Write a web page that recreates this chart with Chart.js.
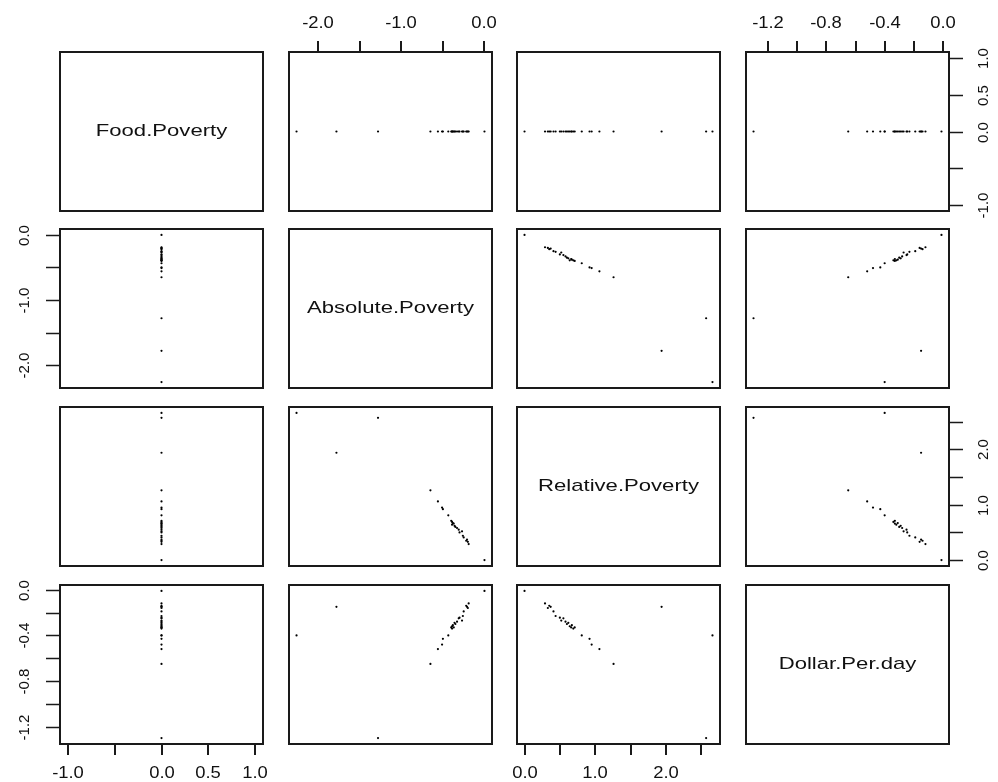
<!DOCTYPE html>
<html>
<head>
<meta charset="utf-8">
<script src="https://cdn.jsdelivr.net/npm/chart.js@4.4.1/dist/chart.umd.min.js"></script>
<style>
  html, body { margin: 0; padding: 0; background: #fff; overflow: hidden; }
  #wrap { position: relative; width: 998px; height: 782px; }
  #wrap canvas { position: absolute; }
</style>
</head>
<body>
<div id="wrap"></div>
<script>
const variables = ['Food.Poverty', 'Absolute.Poverty', 'Relative.Poverty', 'Dollar.Per.day'];

const foodPoverty = [0, 0, 0, 0, 0, 0, 0, 0, 0, 0, 0, 0, 0, 0, 0, 0, 0, 0, 0, 0, 0, 0, 0, 0, 0, 0];
const absolutePoverty = [0.00, -2.26, -1.78, -1.28, -0.19, -0.22, -0.20, -0.25, -0.26, -0.30, -0.31, -0.27, -0.36,
  -0.39, -0.38, -0.40, -0.435, -0.50, -0.51, -0.56, -0.65, -0.35, -0.37, -0.39, -0.33, -0.21];
const relativePoverty = [0.00, 2.66, 1.94, 2.57, 0.29, 0.35, 0.33, 0.41, 0.44, 0.50, 0.55, 0.52, 0.62,
  0.64, 0.67, 0.71, 0.81, 0.92, 0.95, 1.06, 1.26, 0.60, 0.66, 0.69, 0.58, 0.37];
const dollarPerDay = [-0.01, -0.40, -0.15, -1.30, -0.12, -0.14, -0.16, -0.19, -0.23, -0.245, -0.25, -0.27, -0.29,
  -0.32, -0.31, -0.33, -0.40, -0.43, -0.48, -0.52, -0.65, -0.30, -0.33, -0.34, -0.28, -0.15];

const foodTicks = [-1, -0.5, 0, 0.5, 1];
const foodTickLabels = ['-1.0', '', '0.0', '0.5', '1.0'];
const absoluteTicks = [-2, -1.5, -1, -0.5, 0];
const absoluteTickLabels = ['-2.0', '', '-1.0', '', '0.0'];
const relativeTicks = [0, 0.5, 1, 1.5, 2, 2.5];
const relativeTickLabels = ['0.0', '', '1.0', '', '2.0', ''];
const dollarTicks = [-1.2, -1, -0.8, -0.6, -0.4, -0.2, 0];
const dollarTickLabels = ['-1.2', '', '-0.8', '', '-0.4', '', '0.0'];

const series = [foodPoverty, absolutePoverty, relativePoverty, dollarPerDay];
const tickSets = [
  [foodTicks, foodTickLabels],
  [absoluteTicks, absoluteTickLabels],
  [relativeTicks, relativeTickLabels],
  [dollarTicks, dollarTickLabels]
];

// panel geometry (px)
const colLeft = [60, 289, 517, 746];
const rowTop = [52, 229, 407, 585];
const PW = 203, PH = 159, M = 50;
const FONT = '"Liberation Sans", Arial, Helvetica, sans-serif';
const STRETCH = 1.15; // tick labels are a bit wide in the reference

// R-style axis limits: data range plus 4% each side
function limits(v) {
  const lo = Math.min(...v), hi = Math.max(...v);
  if (hi === lo) return [lo - 1.08, hi + 1.08];
  const d = (hi - lo) * 0.04;
  return [lo - d, hi + d];
}

function hText(ctx, txt, x, y, size, sx) {
  ctx.save();
  ctx.translate(x, y);
  ctx.scale(sx, 1);
  ctx.font = size + 'px ' + FONT;
  ctx.textAlign = 'center';
  ctx.textBaseline = 'middle';
  ctx.fillText(txt, 0, 0);
  ctx.restore();
}

function vText(ctx, txt, x, y, size) {
  ctx.save();
  ctx.translate(x, y);
  ctx.rotate(-Math.PI / 2);
  ctx.font = size + 'px ' + FONT;
  ctx.textAlign = 'center';
  ctx.textBaseline = 'middle';
  ctx.fillText(txt, 0, 0);
  ctx.restore();
}

const pairsPlugin = {
  id: 'pairs',
  afterDatasetsDraw(chart, args, opts) {
    const ctx = chart.ctx, a = chart.chartArea;
    ctx.save();
    ctx.strokeStyle = '#1a1a1a';
    ctx.fillStyle = '#111';
    ctx.lineWidth = 2;
    ctx.strokeRect(a.left, a.top, a.right - a.left, a.bottom - a.top);

    if (opts.label) {
      hText(ctx, opts.label, (a.left + a.right) / 2, (a.top + a.bottom) / 2, 17, 1.3);
    }

    (opts.axes || []).forEach(ax => {
      const [vals, labs] = ax.ticks;
      vals.forEach((v, k) => {
        if (ax.side === 'top' || ax.side === 'bottom') {
          const px = Math.round(chart.scales.x.getPixelForValue(v));
          const y0 = ax.side === 'top' ? a.top : a.bottom;
          const dir = ax.side === 'top' ? -1 : 1;
          ctx.lineWidth = 2;
          ctx.beginPath();
          ctx.moveTo(px, y0);
          ctx.lineTo(px, y0 + dir * 11);
          ctx.stroke();
          if (labs[k]) hText(ctx, labs[k], px, ax.side === 'top' ? a.top - 28 : a.bottom + 30, 16, STRETCH);
        } else {
          const py = Math.round(chart.scales.y.getPixelForValue(v)) + 0.5;
          const x0 = ax.side === 'left' ? a.left : a.right;
          const dir = ax.side === 'left' ? -1 : 1;
          ctx.lineWidth = 1.5;
          ctx.beginPath();
          ctx.moveTo(x0, py);
          ctx.lineTo(x0 + dir * 14, py);
          ctx.stroke();
          if (labs[k]) vText(ctx, labs[k], ax.side === 'left' ? a.left - 35 : a.right + 35, py, 15);
        }
      });
    });
    ctx.restore();
  }
};

const wrap = document.getElementById('wrap');

for (let i = 0; i < 4; i++) {
  for (let j = 0; j < 4; j++) {
    const cv = document.createElement('canvas');
    const w = PW + 2 * M, h = PH + 2 * M;
    cv.width = w; cv.height = h;
    cv.style.width = w + 'px';
    cv.style.height = h + 'px';
    cv.style.left = (colLeft[j] - M) + 'px';
    cv.style.top = (rowTop[i] - M) + 'px';
    wrap.appendChild(cv);

    const xs = series[j], ys = series[i];
    const [xmin, xmax] = limits(xs);
    const [ymin, ymax] = limits(ys);

    const axes = [];
    if (i === 0 && j % 2 === 1) axes.push({ side: 'top', ticks: tickSets[j] });
    if (i === 3 && j % 2 === 0) axes.push({ side: 'bottom', ticks: tickSets[j] });
    if (j === 0 && i % 2 === 1) axes.push({ side: 'left', ticks: tickSets[i] });
    if (j === 3 && i % 2 === 0) axes.push({ side: 'right', ticks: tickSets[i] });

    const pts = i === j ? [] : xs.map((x, k) => ({ x: x, y: ys[k] }));

    new Chart(cv, {
      type: 'scatter',
      data: {
        datasets: [{
          data: pts,
          backgroundColor: '#000',
          borderWidth: 0,
          pointRadius: 1.1,
          pointHoverRadius: 1.1
        }]
      },
      options: {
        responsive: false,
        animation: false,
        events: [],
        layout: { padding: M },
        scales: {
          x: { type: 'linear', min: xmin, max: xmax, display: false },
          y: { type: 'linear', min: ymin, max: ymax, display: false }
        },
        plugins: {
          legend: { display: false },
          tooltip: { enabled: false },
          pairs: { label: i === j ? variables[i] : null, axes: axes }
        }
      },
      plugins: [pairsPlugin]
    });
  }
}
</script>
</body>
</html>
